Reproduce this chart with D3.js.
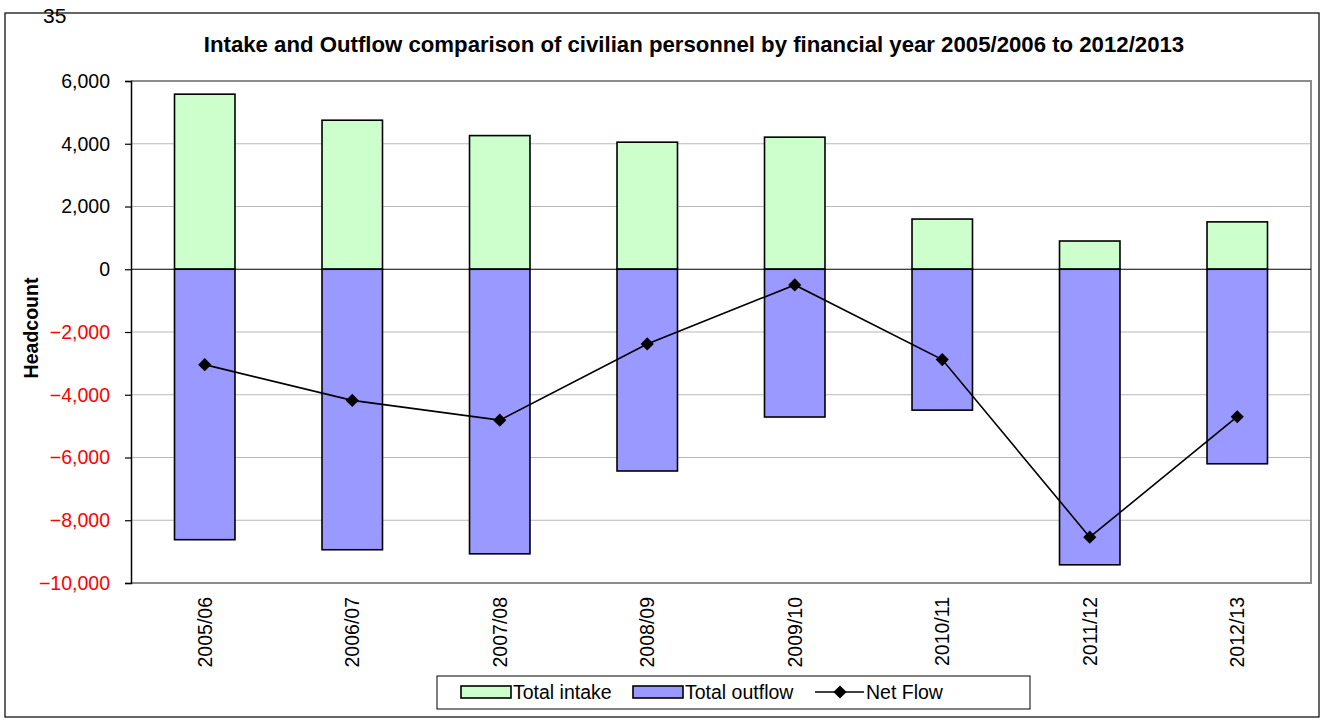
<!DOCTYPE html>
<html>
<head>
<meta charset="utf-8">
<script src="https://cdn.jsdelivr.net/npm/d3@7"></script>
<style>
  body { margin: 0; background: #fff; }
  text { font-family: Arial, "Liberation Sans", sans-serif; }
</style>
</head>
<body>
<script>
var years = ["2005/06", "2006/07", "2007/08", "2008/09", "2009/10", "2010/11", "2011/12", "2012/13"];
var intake = [5580, 4750, 4260, 4050, 4210, 1600, 900, 1510];
var outflow = [-8620, -8940, -9070, -6430, -4710, -4490, -9420, -6200];
var netFlow = [-3040, -4180, -4810, -2380, -500, -2880, -8540, -4700];
var yTicks = [6000, 4000, 2000, 0, -2000, -4000, -6000, -8000, -10000];

var width = 1325, height = 723;
var plot = { left: 131, right: 1311, top: 81, bottom: 583 };

var svg = d3.select("body").append("svg")
  .attr("width", width)
  .attr("height", height);

// outer frame
svg.append("rect")
  .attr("x", 5).attr("y", 13)
  .attr("width", 1314).attr("height", 704)
  .attr("fill", "#fff")
  .attr("stroke", "#000")
  .attr("stroke-width", 1.2);

svg.append("text")
  .attr("x", 43).attr("y", 23)
  .style("font-size", "21px")
  .text("35");

svg.append("text")
  .attr("x", 694).attr("y", 52)
  .attr("text-anchor", "middle")
  .style("font-size", "22.2px")
  .style("font-weight", "bold")
  .text("Intake and Outflow comparison of civilian personnel by financial year 2005/2006 to 2012/2013");

var x = d3.scaleBand()
  .domain(years)
  .range([plot.left, plot.right])
  .paddingInner(0.59)
  .paddingOuter(0.295);

var y = d3.scaleLinear()
  .domain([-10000, 6000])
  .range([plot.bottom, plot.top]);

// gridlines
svg.append("g").selectAll("line")
  .data(yTicks.filter(d => d !== 0 && d !== -10000 && d !== 6000))
  .enter().append("line")
  .attr("x1", plot.left).attr("x2", plot.right)
  .attr("y1", d => y(d)).attr("y2", d => y(d))
  .attr("stroke", "#b8b8b8")
  .attr("stroke-width", 1);

// plot border (top/right/bottom grey)
svg.append("path")
  .attr("d", "M" + plot.left + "," + plot.top + "H" + plot.right + "V" + plot.bottom + "H" + plot.left)
  .attr("fill", "none")
  .attr("stroke", "#8c8c8c")
  .attr("stroke-width", 2);

// bars
svg.append("g").selectAll("rect")
  .data(intake)
  .enter().append("rect")
  .attr("x", (d, i) => x(years[i]))
  .attr("y", d => y(d))
  .attr("width", x.bandwidth())
  .attr("height", d => y(0) - y(d))
  .attr("fill", "#ccffcc")
  .attr("stroke", "#000")
  .attr("stroke-width", 1.6);

svg.append("g").selectAll("rect")
  .data(outflow)
  .enter().append("rect")
  .attr("x", (d, i) => x(years[i]))
  .attr("y", y(0))
  .attr("width", x.bandwidth())
  .attr("height", d => y(d) - y(0))
  .attr("fill", "#9999ff")
  .attr("stroke", "#000")
  .attr("stroke-width", 1.6);

// zero line
svg.append("line")
  .attr("x1", plot.left).attr("x2", plot.right)
  .attr("y1", y(0)).attr("y2", y(0))
  .attr("stroke", "#000")
  .attr("stroke-width", 1.2);

// y axis
var yAxis = d3.axisLeft(y)
  .tickValues(yTicks)
  .tickSize(6)
  .tickFormat(d3.format(","));

var yg = svg.append("g")
  .attr("transform", "translate(" + plot.left + ",0)")
  .call(yAxis);
yg.select(".domain").attr("stroke", "#000").attr("stroke-width", 1.5);
yg.selectAll(".tick line").attr("stroke", "#000").attr("stroke-width", 1.2);
yg.selectAll(".tick text")
  .attr("x", -21)
  .style("font-size", "19.5px")
  .style("font-family", "Arial, 'Liberation Sans', sans-serif")
  .attr("fill", d => d < 0 ? "#ff0000" : "#000");

svg.append("text")
  .attr("transform", "translate(38,328) rotate(-90)")
  .attr("text-anchor", "middle")
  .style("font-size", "19.5px")
  .style("font-weight", "bold")
  .text("Headcount");

// x labels
svg.append("g").selectAll("text")
  .data(years)
  .enter().append("text")
  .attr("transform", d => "translate(" + (x(d) + x.bandwidth() / 2 + 7) + "," + (plot.bottom + 14) + ") rotate(-90)")
  .attr("text-anchor", "end")
  .style("font-size", "19.5px")
  .text(d => d);

// net flow line
var line = d3.line()
  .x((d, i) => x(years[i]) + x.bandwidth() / 2)
  .y(d => y(d));

svg.append("path")
  .datum(netFlow)
  .attr("d", line)
  .attr("fill", "none")
  .attr("stroke", "#000")
  .attr("stroke-width", 1.6);

var diamond = d3.symbol().type(d3.symbolDiamond2).size(110);
svg.append("g").selectAll("path")
  .data(netFlow)
  .enter().append("path")
  .attr("d", diamond)
  .attr("transform", (d, i) => "translate(" + (x(years[i]) + x.bandwidth() / 2) + "," + y(d) + ")")
  .attr("fill", "#000");

// legend
var lg = svg.append("g");
lg.append("rect")
  .attr("x", 437).attr("y", 676)
  .attr("width", 593).attr("height", 33)
  .attr("fill", "#fff")
  .attr("stroke", "#000")
  .attr("stroke-width", 1);

var legendItems = [
  { label: "Total intake", color: "#ccffcc", x: 461 },
  { label: "Total outflow", color: "#9999ff", x: 633 }
];
legendItems.forEach(function(it) {
  lg.append("rect")
    .attr("x", it.x).attr("y", 686)
    .attr("width", 50).attr("height", 12)
    .attr("fill", it.color)
    .attr("stroke", "#000")
    .attr("stroke-width", 1.6);
  lg.append("text")
    .attr("x", it.x + 52).attr("y", 699)
    .style("font-size", "19.5px")
    .text(it.label);
});
lg.append("line")
  .attr("x1", 815).attr("x2", 864)
  .attr("y1", 692).attr("y2", 692)
  .attr("stroke", "#000")
  .attr("stroke-width", 1.6);
lg.append("path")
  .attr("d", diamond)
  .attr("transform", "translate(840,692)")
  .attr("fill", "#000");
lg.append("text")
  .attr("x", 866).attr("y", 699)
  .style("font-size", "19.5px")
  .text("Net Flow");
</script>
</body>
</html>
